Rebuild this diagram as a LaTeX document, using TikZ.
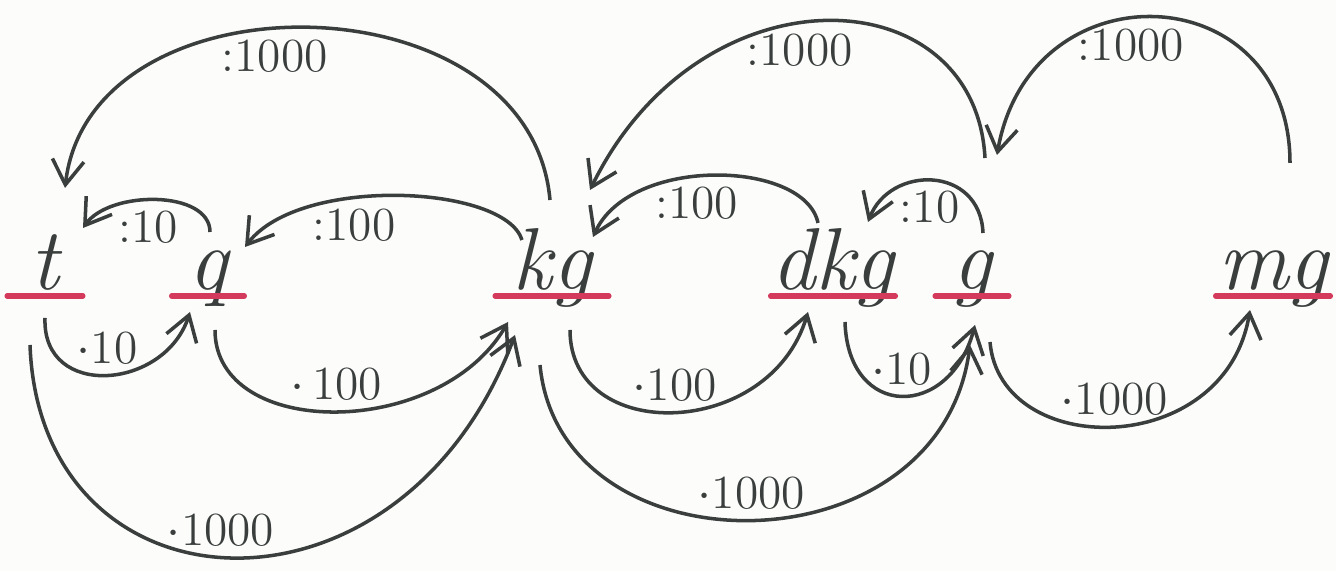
\documentclass[tikz,border=0pt]{standalone}
\usetikzlibrary{arrows.meta,calc}
\tikzset{>=Stealth}

\definecolor{ink}{HTML}{3A3F3D}
\definecolor{marker}{HTML}{D43A5B}
\definecolor{paper}{HTML}{FCFCFB}

\begin{document}
\begin{tikzpicture}[
    x=0.01cm, y=-0.01cm,
    unit/.style={anchor=base, inner sep=0pt, minimum width=#1, text=ink, font=\fontsize{25}{28}\selectfont\itshape},
    lbl/.style={text=ink, inner sep=2.5pt, font=\fontsize{13.5}{16}\selectfont},
    arr/.style={-{Straight Barb[length=7pt,width=9pt]}, line width=1pt, draw=ink},
    underline/.style={draw=marker, line width=1.6pt, line cap=round}
  ]
    \fill[paper] (0,0) rectangle (1336,571);
    \useasboundingbox (0,0) rectangle (1336,571);

    % units on their red lines
    \node[unit=0.74cm] (t) at (45,290) {t};
    \node[unit=0.71cm] (q) at (208,290) {q};
    \node[unit=1.12cm] (kg) at (552,290) {kg};
    \node[unit=1.09cm] (dkg) at (833,290) {dkg};
    \node[unit=0.72cm] (g) at (972,290) {g};
    \node[unit=1.13cm] (mg) at (1273,290) {mg};
    \foreach \u in {t,q,kg,dkg,g,mg}
      \draw[underline] ([yshift=-1.7pt]\u.base west) -- ([yshift=-1.7pt]\u.base east);

    % dividing: arcs above, to the left
    \draw[arr] ($(q.base)+(2,-58)$) .. controls ($(q.base)+(2,-100)$) and ($(t.base)+(65,-100)$) .. node[lbl,below,pos=.55]{:10} ($(t.base)+(38,-62)$);
    \draw[arr] ($(kg.base)+(-30,-50)$) .. controls ($(kg.base)+(-47,-105)$) and ($(q.base)+(92,-115)$) .. node[lbl,below,pos=.62]{:100} ($(q.base)+(37,-43)$);
    \draw[arr] ($(kg.base)+(-2,-90)$) .. controls ($(kg.base)+(-22,-315)$) and ($(t.base)+(45,-320)$) .. node[lbl,below,pos=.55]{:1000} ($(t.base)+(20,-102)$);
    \draw[arr] ($(dkg.base)+(-15,-67)$) .. controls ($(dkg.base)+(-28,-130)$) and ($(kg.base)+(78,-135)$) .. node[lbl,below,pos=.56]{:100} ($(kg.base)+(41,-53)$);
    \draw[arr] ($(g.base)+(11,-57)$) .. controls ($(g.base)+(8,-125)$) and ($(dkg.base)+(57,-125)$) .. node[lbl,below,pos=.52]{:10} ($(dkg.base)+(35,-68)$);
    \draw[arr] ($(g.base)+(13,-132)$) .. controls ($(g.base)+(3,-315)$) and ($(kg.base)+(148,-325)$) .. node[lbl,below,pos=.55]{:1000} ($(kg.base)+(38,-100)$);
    \draw[arr] ($(mg.base)+(17,-127)$) .. controls ($(mg.base)+(17,-315)$) and ($(g.base)+(58,-325)$) .. node[lbl,below,pos=.56]{:1000} ($(g.base)+(25,-135)$);

    % multiplying: arcs below, to the right
    \draw[arr] ($(t.base)+(0,28)$) .. controls ($(t.base)+(-3,110)$) and ($(q.base)+(-43,100)$) .. node[lbl,above]{$\cdot$10} ($(q.base)+(-18,22)$);
    \draw[arr] ($(q.base)+(7,40)$) .. controls ($(q.base)+(7,150)$) and ($(kg.base)+(-112,150)$) .. node[lbl,above]{$\cdot$\,100} ($(kg.base)+(-44,32)$);
    \draw[arr] ($(t.base)+(-15,55)$) .. controls ($(t.base)+(-5,330)$) and ($(kg.base)+(-152,350)$) .. node[lbl,above,pos=.48]{$\cdot$1000} ($(kg.base)+(-37,45)$);
    \draw[arr] ($(kg.base)+(18,40)$) .. controls ($(kg.base)+(18,155)$) and ($(dkg.base)+(-63,150)$) .. node[lbl,above]{$\cdot$100} ($(dkg.base)+(-25,22)$);
    \draw[arr] ($(dkg.base)+(12,32)$) .. controls ($(dkg.base)+(15,130)$) and ($(g.base)+(-22,130)$) .. node[lbl,above]{$\cdot$10} ($(g.base)+(3,35)$);
    \draw[arr] ($(kg.base)+(-12,75)$) .. controls ($(kg.base)+(8,285)$) and ($(g.base)+(-32,285)$) .. node[lbl,above]{$\cdot$1000} ($(g.base)+(-2,55)$);
    \draw[arr] ($(g.base)+(18,52)$) .. controls ($(g.base)+(28,170)$) and ($(mg.base)+(-48,170)$) .. node[lbl,above]{$\cdot$1000} ($(mg.base)+(-23,20)$);
  \end{tikzpicture}
\end{document}
